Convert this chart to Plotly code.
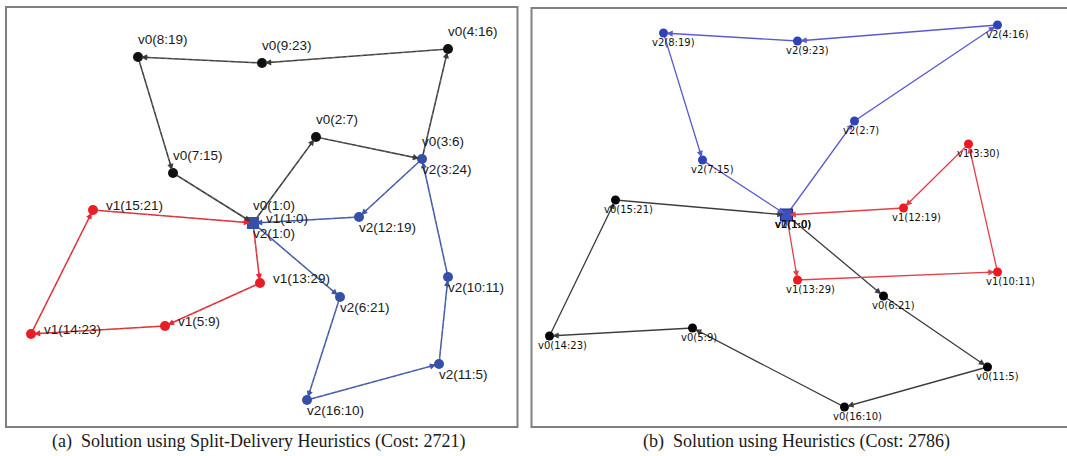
import math
import plotly.graph_objects as go

# ---------------- data ----------------
# customer / depot ids (1 = depot)
node_ids = list(range(1, 17))

# node layout of panel (a), drawing-canvas units (x right, y down)
pos_a_x = [247, 310, 416, 442, 159, 334, 167, 132, 256, 442, 433, 353, 254, 25, 87, 301]
pos_a_y = [216, 130, 152, 42, 319, 290, 166, 50, 56, 270, 357, 210, 276, 327, 203, 393]

# node layout of panel (b)
pos_b_x = [255, 323, 437, 466, 161, 352, 171, 132, 266, 466, 456, 372, 266, 18, 84, 313]
pos_b_y = [207, 113, 136, 17, 320, 288, 152, 25, 33, 264, 359, 200, 272, 328, 192, 399]

# (a) split-delivery solution: visit order and quantity delivered at each stop
route_a_v0 = [1, 2, 3, 4, 9, 8, 7, 1]
load_a_v0 = [0, 7, 6, 16, 23, 19, 15]
route_a_v1 = [1, 13, 5, 14, 15, 1]
load_a_v1 = [0, 29, 9, 23, 21]
route_a_v2 = [1, 6, 16, 11, 10, 3, 12, 1]
load_a_v2 = [0, 21, 10, 5, 11, 24, 19]

# (b) heuristic solution
route_b_v0 = [1, 6, 11, 16, 5, 14, 15, 1]
load_b_v0 = [0, 21, 5, 10, 9, 23, 21]
route_b_v1 = [1, 13, 10, 3, 12, 1]
load_b_v1 = [0, 29, 11, 30, 19]
route_b_v2 = [1, 2, 4, 9, 8, 7, 1]
load_b_v2 = [0, 7, 16, 23, 19, 15]

vehicles = ["v0", "v1", "v2"]
captions = [
    "(a)\u2002Solution using Split-Delivery Heuristics (Cost: 2721)",
    "(b)\u2002Solution using Heuristics (Cost: 2786)",
]

# ---------------- styling ----------------
W, H = 1067, 456
FRAME_A = (6, 7, 517.5, 427)      # left, top, right, bottom (px)
FRAME_B = (531.5, 8, 1069, 427)

panels = [
    dict(
        xs=pos_a_x, ys=pos_a_y,
        routes=[(route_a_v0, load_a_v0), (route_a_v1, load_a_v1), (route_a_v2, load_a_v2)],
        frame=FRAME_A, xa="x", ya="y",
        edge_col=["#3b3b3b", "#e8262d", "#3d56aa"],
        node_col=["#111111", "#ea1c24", "#3550a6"],
        depot_fill="#3550a6", depot_line="#3550a6", depot_size=11,
        node_size=10, edge_w=1.5, overlay=True,
        font=dict(family="Liberation Sans, Arial, sans-serif", size=13.5, color="#1a1a1a"),
        # label placement per vehicle: (dx, dy) in px, text left-anchored
        lab_off=[(0, -18), (13, -5), (0, 10)],
    ),
    dict(
        xs=pos_b_x, ys=pos_b_y,
        routes=[(route_b_v0, load_b_v0), (route_b_v1, load_b_v1), (route_b_v2, load_b_v2)],
        frame=FRAME_B, xa="x2", ya="y2",
        edge_col=["#3c3c3c", "#e4404a", "#5a5ad0"],
        node_col=["#050505", "#f01820", "#2f44b4"],
        depot_fill="#3c4fc0", depot_line="#1c2a80", depot_size=12,
        node_size=9, edge_w=1.3, overlay=False,
        font=dict(family="DejaVu Sans, Verdana, sans-serif", size=10, color="#111111"),
        lab_off=[(-12, 9), (-12, 9), (-12, 9)],
    ),
]

fig = go.Figure()
annotations = []
shapes = []

for p in panels:
    xs, ys = p["xs"], p["ys"]
    pos = {n: (xs[i], ys[i]) for i, n in enumerate(node_ids)}
    node_color = {}

    # route edges
    for k, (route, loads) in enumerate(p["routes"]):
        rx = [pos[n][0] for n in route]
        ry = [pos[n][1] for n in route]
        fig.add_trace(go.Scatter(
            x=rx, y=ry, mode="lines", xaxis=p["xa"], yaxis=p["ya"],
            line=dict(color=p["edge_col"][k], width=p["edge_w"]),
            hoverinfo="skip", showlegend=False))
        if p["overlay"]:
            fig.add_trace(go.Scatter(
                x=rx, y=ry, mode="lines", xaxis=p["xa"], yaxis=p["ya"],
                line=dict(color="rgba(150,150,150,0.75)", width=0.7, dash="3px,4px"),
                hoverinfo="skip", showlegend=False))
        # arrowheads at the end of each leg
        for s, t in zip(route[:-1], route[1:]):
            sx, sy = pos[s]
            tx, ty = pos[t]
            d = math.hypot(sx - tx, sy - ty)
            L = min(12.0, d)
            annotations.append(dict(
                x=tx, y=ty, xref=p["xa"], yref=p["ya"],
                ax=tx + (sx - tx) / d * L, ay=ty + (sy - ty) / d * L,
                axref=p["xa"], ayref=p["ya"], text="", showarrow=True,
                arrowhead=2, arrowsize=0.95, arrowwidth=1.3,
                arrowcolor=p["edge_col"][k], standoff=3))
        for n in route[1:-1]:
            node_color[n] = p["node_col"][k]

        # node labels
        dx, dy = p["lab_off"][k]
        for n, q in zip(route[:-1], loads):
            annotations.append(dict(
                x=pos[n][0], y=pos[n][1], xref=p["xa"], yref=p["ya"],
                text=f"{vehicles[k]}({n}:{q})", showarrow=False,
                xanchor="left", yanchor="middle", xshift=dx - 2, yshift=-dy,
                font=p["font"]))

    # customer nodes
    cust = [n for n in node_ids if n != 1]
    fig.add_trace(go.Scatter(
        x=[pos[n][0] for n in cust], y=[pos[n][1] for n in cust],
        mode="markers", xaxis=p["xa"], yaxis=p["ya"],
        marker=dict(size=p["node_size"], color=[node_color[n] for n in cust],
                    line=dict(width=0)),
        hoverinfo="skip", showlegend=False))
    # depot
    fig.add_trace(go.Scatter(
        x=[pos[1][0]], y=[pos[1][1]], mode="markers", xaxis=p["xa"], yaxis=p["ya"],
        marker=dict(symbol="square", size=p["depot_size"], color=p["depot_fill"],
                    line=dict(width=1.2, color=p["depot_line"])),
        hoverinfo="skip", showlegend=False))

    l, t, r, b = p["frame"]
    shapes.append(dict(type="rect", xref="paper", yref="paper",
                       x0=l / W, x1=r / W, y0=1 - b / H, y1=1 - t / H,
                       line=dict(color="#808080", width=2), fillcolor="rgba(0,0,0,0)",
                       layer="below"))

# captions under each panel
for cx, txt in zip([258, 796], captions):
    annotations.append(dict(
        x=cx / W, y=1 - 441 / H, xref="paper", yref="paper", text=txt,
        showarrow=False, xanchor="center", yanchor="middle",
        font=dict(family="Liberation Serif, Times New Roman, serif", size=18, color="#1a1a1a")))


def axis_dom(frame):
    l, t, r, b = frame
    return [l / W, min(r / W, 1.0)], [1 - b / H, 1 - t / H]


dxa, dya = axis_dom(FRAME_A)
dxb, dyb = axis_dom(FRAME_B)
ax_common = dict(showgrid=False, zeroline=False, showticklabels=False, ticks="",
                 showline=False, fixedrange=True)

fig.update_layout(
    width=W, height=H,
    margin=dict(l=0, r=0, t=0, b=0),
    paper_bgcolor="white", plot_bgcolor="white",
    xaxis=dict(domain=dxa, range=[0, FRAME_A[2] - FRAME_A[0]], **ax_common),
    yaxis=dict(domain=dya, range=[FRAME_A[3] - FRAME_A[1], 0], **ax_common),
    xaxis2=dict(domain=dxb, range=[0, W - FRAME_B[0]], anchor="y2", **ax_common),
    yaxis2=dict(domain=dyb, range=[FRAME_B[3] - FRAME_B[1], 0], anchor="x2", **ax_common),
    annotations=annotations,
    shapes=shapes,
    showlegend=False,
)

fig.write_html("out.html")
